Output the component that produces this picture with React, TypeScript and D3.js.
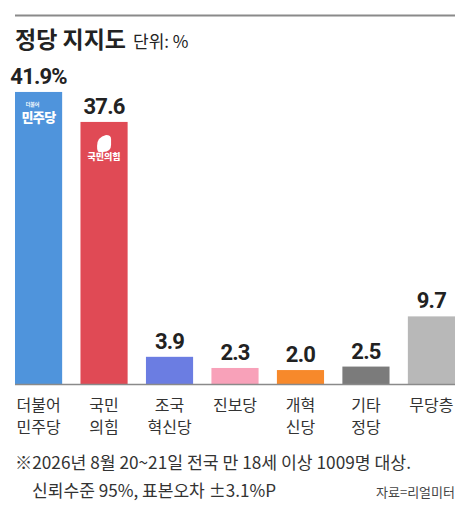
import { useEffect } from 'react'
import * as d3 from 'd3'

const parties = ['더불어\n민주당', '국민\n의힘', '조국\n혁신당', '진보당', '개혁\n신당', '기타\n정당', '무당층']
const support = [41.9, 37.6, 3.9, 2.3, 2.0, 2.5, 9.7]
const valueLabels = ['41.9%', '37.6', '3.9', '2.3', '2.0', '2.5', '9.7']
const colors = ['#4f94dc', '#e04a55', '#6b7de2', '#f8a1b9', '#f7892b', '#7b7b7b', '#b8b8b8']
const footnotes = ['※2026년 8월 20~21일 전국 만 18세 이상 1009명 대상.', '신뢰수준 95%, 표본오차 ±3.1%P']
const source = '자료=리얼미터'

const W = 467
const H = 506
const KR = '"Noto Sans CJK KR", "Noto Sans", sans-serif'
const NUM = '"Roboto", "Noto Sans CJK KR", sans-serif'

export default function App() {
  useEffect(() => {
    document.body.style.margin = '0'
  }, [])

  const x = d3.scaleBand<number>().domain(support.map((_, i) => i)).range([15, 455]).paddingInner(0.28).paddingOuter(0)
  const y = d3.scaleLinear().domain([0, 50]).range([384, 35.5])
  const bw = x.bandwidth()
  const cx = (i: number) => (x(i) ?? 0) + bw / 2

  return (
    <svg width={W} height={H} style={{ display: 'block', background: '#fff' }}>
      <line x1={15} x2={455} y1={15.5} y2={15.5} stroke="#8a8a8a" strokeWidth={2} />
      <text x={15} y={48} fontFamily={KR} fontSize={23} fontWeight={700} fill="#222">
        정당 지지도
        <tspan dx={7} fontSize={17} fontWeight={400}>단위: %</tspan>
      </text>

      {support.map((v, i) => (
        <g key={i}>
          <rect x={x(i)} y={y(v)} width={bw} height={y(0) - y(v)} fill={colors[i]} />
          <text x={cx(i)} y={y(v) - 8} textAnchor="middle" fontFamily={NUM} fontSize={22} fontWeight={700} fill="#222" letterSpacing={-0.8}>
            {valueLabels[i]}
          </text>
          {parties[i].split('\n').map((line, k) => (
            <text key={k} x={cx(i)} y={411 + k * 22} textAnchor="middle" fontFamily={KR} fontSize={16} fill="#333">
              {line}
            </text>
          ))}
        </g>
      ))}

      {/* party logos */}
      <text x={cx(0)} y={106} textAnchor="middle" fontFamily={KR} fontSize={5} fontWeight={700} fill="#fff" dx={-6}>더불어</text>
      <text x={cx(0)} y={122} textAnchor="middle" fontFamily={KR} fontSize={13} fontWeight={900} fill="#fff" letterSpacing={-0.5}>민주당</text>
      <path
        d={`M${cx(1) - 7},${y(37.6) + 24} q0,-9 9,-11 q5,0 5,4 v6 q0,7 -8,7 h-4 q-2,0 -2,-6 z`}
        fill="#fff"
      />
      <text x={cx(1)} y={y(37.6) + 38} textAnchor="middle" fontFamily={KR} fontSize={9} fontWeight={900} fill="#fff">국민의힘</text>

      <line x1={15} x2={455} y1={384.5} y2={384.5} stroke="#8a8a8a" strokeWidth={1.5} />

      <text x={15} y={469} fontFamily={KR} fontSize={17} fill="#333" textLength={396} lengthAdjust="spacingAndGlyphs">{footnotes[0]}</text>
      <text x={32} y={497} fontFamily={KR} fontSize={17} fill="#333" textLength={244} lengthAdjust="spacingAndGlyphs">{footnotes[1]}</text>
      <text x={455} y={497} textAnchor="end" fontFamily={KR} fontSize={13} fill="#444">{source}</text>
    </svg>
  )
}
